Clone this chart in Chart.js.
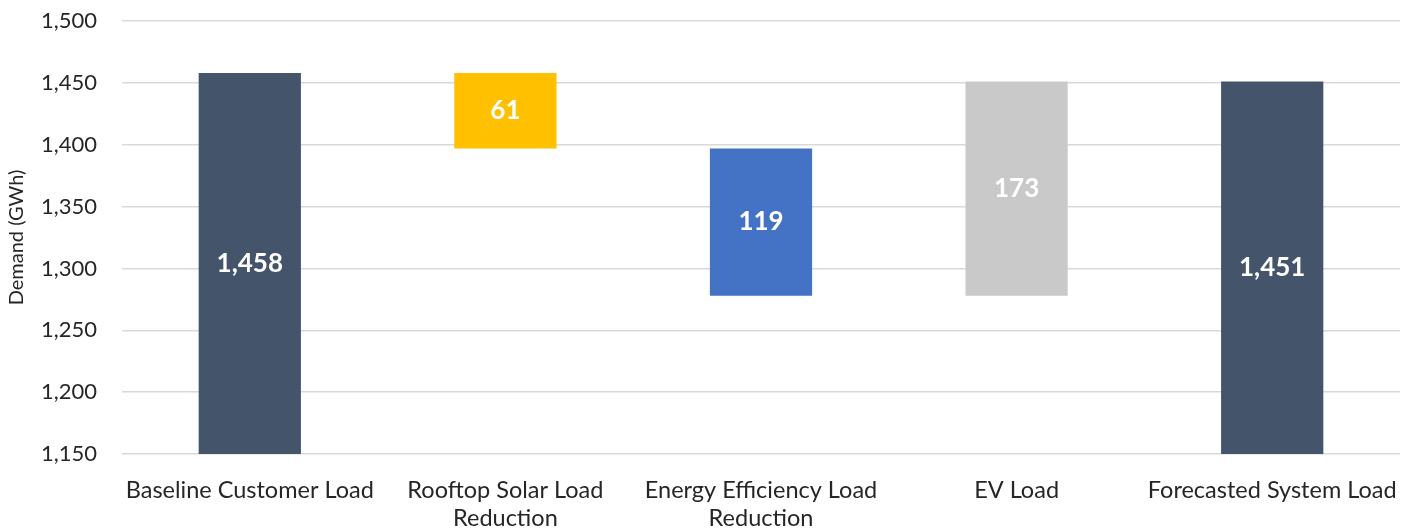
<!DOCTYPE html>
<html>
<head>
<meta charset="utf-8">
<script src="https://cdn.jsdelivr.net/npm/chart.js@4"></script>
<style>
  body { margin: 0; background: #fff; }
  #wrap { width: 1407px; height: 531px; }
</style>
</head>
<body>
<div id="wrap"><canvas id="waterfall"></canvas></div>
<script>
// data
const categories = [
    'Baseline Customer Load',
    ['Rooftop Solar Load', 'Reduction'],
    ['Energy Efficiency Load', 'Reduction'],
    'EV Load',
    'Forecasted System Load'
];
const barStart = [1150, 1397, 1278, 1278, 1150];
const barEnd = [1458, 1458, 1397, 1451, 1451];
const barLabels = ['1,458', '61', '119', '173', '1,451'];
const barColors = ['#44546A', '#FFC000', '#4472C4', '#C9C9C9', '#44546A'];

const yMin = 1150, yMax = 1500, yStep = 50;

const FONT = 'Lato, "Open Sans", sans-serif';

// labels in the middle of each bar
const barValueLabels = {
    id: 'barValueLabels',
    afterDatasetsDraw(chart) {
        const ctx = chart.ctx;
        const meta = chart.getDatasetMeta(0);
        ctx.save();
        ctx.fillStyle = '#ffffff';
        ctx.font = 'bold 26px ' + FONT;
        ctx.textAlign = 'center';
        ctx.textBaseline = 'middle';
        meta.data.forEach((bar, i) => {
            const mid = (bar.y + bar.base) / 2;
            ctx.fillText(barLabels[i], bar.x, mid);
        });
        ctx.restore();
    }
};

const ctx = document.getElementById('waterfall');

new Chart(ctx, {
    type: 'bar',
    data: {
        labels: categories,
        datasets: [{
            data: barStart.map((s, i) => [s, barEnd[i]]),
            backgroundColor: barColors,
            borderWidth: 0,
            borderSkipped: false,
            barPercentage: 0.4,
            categoryPercentage: 1
        }]
    },
    options: {
        responsive: true,
        maintainAspectRatio: false,
        animation: false,
        layout: { padding: { top: 21, right: 7, left: 0, bottom: 0 } },
        plugins: {
            legend: { display: false },
            tooltip: { enabled: false }
        },
        scales: {
            x: {
                afterFit: scale => {
                    scale.height = 77;
                    scale.paddingLeft = 0;
                    scale.paddingRight = 0;
                },
                grid: { display: false, drawTicks: false },
                border: { display: false },
                ticks: {
                    color: '#262626',
                    font: { family: FONT, size: 23.5, lineHeight: 1.2 },
                    padding: 22,
                    maxRotation: 0,
                    autoSkip: false
                }
            },
            y: {
                min: yMin,
                max: yMax,
                afterFit: scale => { scale.width = 122; },
                ticks: {
                    stepSize: yStep,
                    color: '#262626',
                    font: { family: FONT, size: 22 },
                    padding: 0,
                    callback: v => v.toLocaleString('en-US')
                },
                grid: {
                    color: '#D9D9D9',
                    lineWidth: 1.5,
                    drawTicks: true,
                    tickLength: 25,
                    tickColor: 'rgba(0,0,0,0)'
                },
                border: { display: false },
                title: {
                    display: true,
                    text: 'Demand (GWh)',
                    color: '#262626',
                    font: { family: FONT, size: 20 },
                    padding: { top: 5, bottom: 0 }
                }
            }
        }
    },
    plugins: [barValueLabels]
});
</script>
</body>
</html>
